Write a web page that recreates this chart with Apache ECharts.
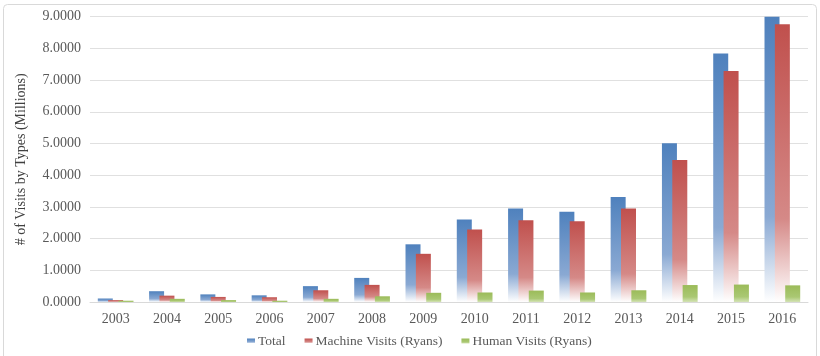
<!DOCTYPE html>
<html>
<head>
<meta charset="utf-8">
<script src="https://cdn.jsdelivr.net/npm/echarts@6/dist/echarts.min.js"></script>
<style>
  html, body { margin: 0; padding: 0; background: #fff; }
  #chart { width: 820px; height: 356px; }
</style>
</head>
<body>
<div id="chart"></div>
<script>
// data
const years = ["2003", "2004", "2005", "2006", "2007", "2008", "2009", "2010", "2011", "2012", "2013", "2014", "2015", "2016"];
const total = [0.11, 0.34, 0.24, 0.21, 0.50, 0.76, 1.82, 2.60, 2.95, 2.85, 3.31, 5.01, 7.84, 9.00];
const machine = [0.06, 0.20, 0.16, 0.15, 0.37, 0.54, 1.52, 2.29, 2.58, 2.55, 2.95, 4.48, 7.29, 8.76];
const human = [0.04, 0.10, 0.06, 0.04, 0.10, 0.18, 0.29, 0.30, 0.36, 0.30, 0.37, 0.535, 0.55, 0.525];
const seriesNames = ["Total", "Machine Visits (Ryans)", "Human Visits (Ryans)"];

const font = "'Liberation Serif', 'Times New Roman', serif";

function fade(top, mid, bottom) {
  return new echarts.graphic.LinearGradient(0, 0, 0, 1, [
    { offset: 0, color: top },
    { offset: 0.7, color: mid },
    { offset: 1, color: bottom },
  ]);
}

let chart = echarts.init(document.getElementById("chart"));
chart.setOption({
  animation: false,
  textStyle: { fontFamily: font },
  graphic: [
    {
      type: "rect",
      shape: { x: 3.5, y: 4.5, width: 813, height: 360, r: 4 },
      style: { fill: "none", stroke: "#d9d9d9", lineWidth: 1 },
      silent: true,
    },
  ],
  grid: { left: 90, right: 12, top: 16.7, bottom: 54 },
  legend: {
    bottom: 3,
    left: 242,
    itemWidth: 8,
    itemHeight: 5,
    itemGap: 19,
    icon: "rect",
    textStyle: { fontFamily: font, fontSize: 13.5, color: "#595959", padding: [0, 0, 0, -2] },
    data: seriesNames,
  },
  xAxis: {
    type: "category",
    data: years,
    axisTick: { show: false },
    axisLine: { lineStyle: { color: "#d9d9d9" } },
    axisLabel: { color: "#595959", fontSize: 14, fontFamily: font, margin: 10 },
  },
  yAxis: {
    type: "value",
    min: 0,
    max: 9,
    interval: 1,
    name: "# of Visits by Types (Millions)",
    nameLocation: "middle",
    nameGap: 62,
    nameTextStyle: { color: "#404040", fontSize: 14, fontFamily: font },
    axisLine: { show: false },
    axisTick: { show: false },
    splitLine: { lineStyle: { color: "#e0e0e0" } },
    axisLabel: {
      color: "#595959",
      fontSize: 14,
      fontFamily: font,
      margin: 9,
      formatter: (v) => v.toFixed(4),
    },
  },
  series: [
    {
      name: seriesNames[0],
      type: "bar",
      barWidth: 15,
      barGap: "-31%",
      data: total,
      itemStyle: { color: fade("#4f81bd", "#8aa9d3", "#ffffff") },
      z: 2,
    },
    {
      name: seriesNames[1],
      type: "bar",
      barWidth: 15,
      barGap: "-31%",
      data: machine,
      itemStyle: { color: fade("#c0504d", "#d58987", "#ffffff") },
      z: 3,
    },
    {
      name: seriesNames[2],
      type: "bar",
      barWidth: 15,
      barGap: "-31%",
      data: human,
      itemStyle: { color: fade("#9bbb59", "#aac873", "#d4e3b5") },
      z: 4,
    },
  ],
});
</script>
</body>
</html>
